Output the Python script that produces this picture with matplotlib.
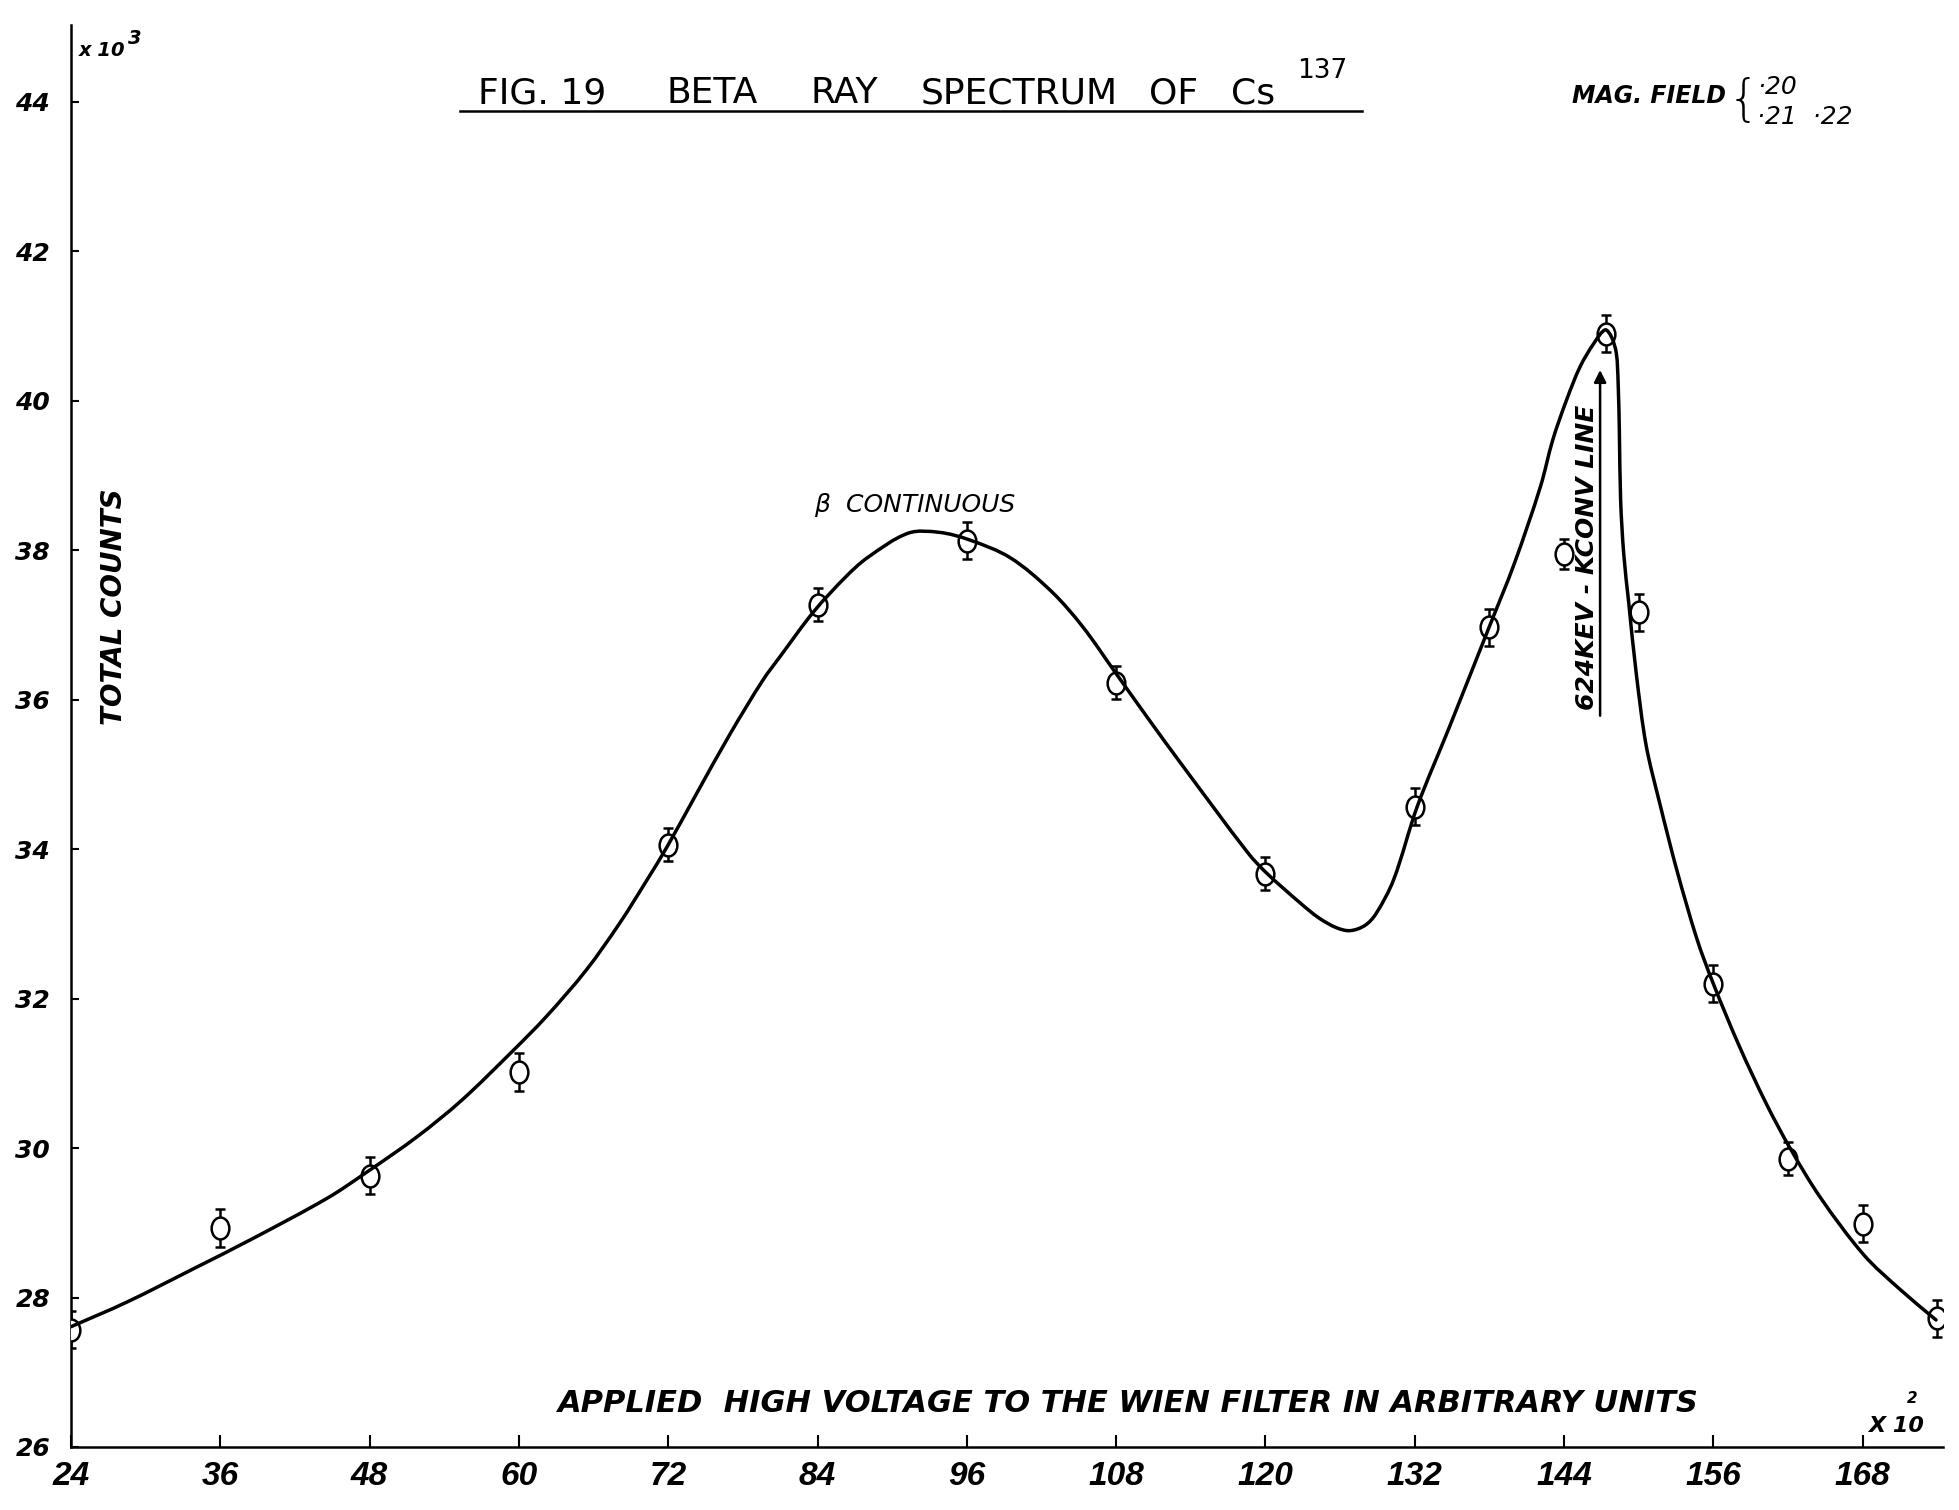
import matplotlib
matplotlib.use("Agg")
import numpy as np
import matplotlib.pyplot as plt
from matplotlib.lines import Line2D
from matplotlib.markers import MarkerStyle
from matplotlib.path import Path
from matplotlib.patches import PathPatch
from matplotlib.transforms import Affine2D

# measured points (voltage x 10^2, counts x 10^3)
voltage = [24, 36, 48, 60, 72, 84, 96, 108, 120, 132, 138, 144, 147.4, 150, 156, 162, 168, 174]
counts = [27.57, 28.93, 29.63, 31.02, 34.06, 37.27, 38.13, 36.23, 33.67, 34.57,
          36.97, 37.95, 40.9, 37.17, 32.2, 29.86, 28.99, 27.72]
count_err = [0.25, 0.25, 0.25, 0.25, 0.22, 0.22, 0.25, 0.22, 0.22, 0.25,
             0.25, 0.2, 0.25, 0.25, 0.25, 0.22, 0.25, 0.25]

# hand drawn curve
curve_x = [24.0, 28.5, 33.9, 38.5, 44.6, 47.7, 51.8, 55.4, 59.5, 62.2, 65.4, 68.1,
           70.3, 71.9, 74.3, 77.0, 79.6, 81.0, 83.7, 86.3, 88.0, 91.3, 93.8, 96.2,
           99.5, 102.8, 105.3, 108.0, 110.7, 113.2, 118.6, 120.1, 122.8, 124.3, 125.7,
           126.8, 128.0, 128.9, 130.3, 132.2, 134.8, 138.0, 140.0, 142.1, 143.1, 144.2,
           145.3, 146.4, 147.3, 147.8, 148.2, 148.35, 148.45, 148.55, 148.8, 149.2, 149.8,
           150.6, 151.7, 153.1, 154.7, 156.0, 158.1, 160.3, 162.2, 164.6, 168.1, 171.0, 173.9]
curve_y = [27.61, 27.94, 28.39, 28.78, 29.33, 29.67, 30.15, 30.64, 31.3, 31.76, 32.38, 33.01,
           33.59, 34.03, 34.75, 35.55, 36.26, 36.58, 37.18, 37.65, 37.9, 38.23, 38.24, 38.14,
           37.9, 37.45, 36.98, 36.35, 35.72, 35.15, 33.95, 33.68, 33.28, 33.08, 32.95,
           32.91, 32.98, 33.14, 33.59, 34.57, 35.64, 36.98, 37.82, 38.85, 39.48, 40.01,
           40.46, 40.77, 40.95, 40.86, 40.64, 40.24, 39.57, 38.67, 37.95, 37.3, 36.36,
           35.39, 34.61, 33.7, 32.79, 32.2, 31.36, 30.58, 29.99, 29.34, 28.57, 28.11, 27.7]

x_ticks = [24, 36, 48, 60, 72, 84, 96, 108, 120, 132, 144, 156, 168]
y_ticks = [26, 28, 30, 32, 34, 36, 38, 40, 42, 44]
title_words = ["FIG. 19", "BETA", "RAY", "SPECTRUM", "OF", "Cs"]

W, H = 1959, 1510
fig = plt.figure(figsize=(W / 100, H / 100), dpi=100)
ax = fig.add_axes([71 / W, 1 - 1447 / H, (1943 - 71) / W, (1447 - 25) / H])
ax.set_xlim(24, 174.46)
ax.set_ylim(26, 45.03)


def fpos(x, y):
    # pixel position on the sheet -> figure fraction
    return x / W, 1 - y / H


def smooth_path(xs, ys):
    # pen-like curve through the read points (cubic pieces, chord length spacing)
    p = np.column_stack([xs, ys])
    d = ax.transData.transform(p)
    t = np.concatenate([[0], np.cumsum(np.hypot(*np.diff(d, axis=0).T))])
    m = np.zeros_like(p)
    m[1:-1] = (p[2:] - p[:-2]) / (t[2:] - t[:-2])[:, None]
    m[0] = (p[1] - p[0]) / (t[1] - t[0])
    m[-1] = (p[-1] - p[-2]) / (t[-1] - t[-2])
    verts, codes = [p[0]], [Path.MOVETO]
    for i in range(len(p) - 1):
        h = t[i + 1] - t[i]
        verts += [p[i] + m[i] * h / 3, p[i + 1] - m[i + 1] * h / 3, p[i + 1]]
        codes += [Path.CURVE4] * 3
    return Path(verts, codes)


hand = dict(family="DejaVu Sans", style="italic", weight="bold")
tickfont = dict(family="Liberation Sans", style="italic", weight="bold")

ax.add_patch(PathPatch(smooth_path(curve_x, curve_y), facecolor="none", edgecolor="black",
                       lw=2.5, zorder=4, capstyle="round", joinstyle="round"))
ax.errorbar(voltage, counts, yerr=count_err, fmt="none", ecolor="black",
            elinewidth=1.8, capsize=3.5, capthick=1.8, zorder=2)
oval = MarkerStyle("o", transform=Affine2D().scale(0.85, 1.05))
ax.plot(voltage, counts, linestyle="none", marker=oval, markersize=15,
        mfc="white", mec="black", mew=1.8, zorder=3)

for s in ["top", "right"]:
    ax.spines[s].set_visible(False)
for s in ["left", "bottom"]:
    ax.spines[s].set_linewidth(1.8)

ax.set_xticks(x_ticks)
ax.set_yticks(y_ticks)
ax.set_xticklabels([str(t) for t in x_ticks], fontsize=24, **tickfont)
ax.set_yticklabels([str(t) for t in y_ticks], fontsize=18, **hand)
ax.tick_params(axis="x", direction="in", length=9, width=1.5, pad=10)
ax.tick_params(axis="y", direction="in", length=6, width=1.5, pad=15)

# title, word by word, with underline
for word, xp in zip(title_words, [478, 666, 810, 921, 1149, 1231]):
    fig.text(*fpos(xp, 103), word, fontsize=26, family="DejaVu Sans", ha="left", va="baseline")
fig.text(*fpos(1297, 78), "137", fontsize=19, family="DejaVu Sans", ha="left", va="baseline")
fig.add_artist(Line2D([460 / W, 1362 / W], [1 - 111 / H, 1 - 111 / H], color="black", lw=1.8))

fig.text(*fpos(79, 56), "x 10", fontsize=14, ha="left", va="baseline", **hand)
fig.text(*fpos(128, 44), "3", fontsize=14, ha="left", va="baseline", **hand)

fig.text(*fpos(1572, 103), "MAG. FIELD", fontsize=17, ha="left", va="baseline", **hand)
fig.text(*fpos(1728, 101), "{", fontsize=36, family="DejaVu Sans", weight="light",
         ha="left", va="center")
fig.text(*fpos(1757, 94), "\u00b720", fontsize=18, family="DejaVu Sans", style="italic",
         ha="left", va="baseline")
fig.text(*fpos(1757, 124), "\u00b721  \u00b722", fontsize=18, family="DejaVu Sans", style="italic",
         ha="left", va="baseline")

ax.text(0.023, 0.591, "TOTAL COUNTS", transform=ax.transAxes, rotation=90,
        fontsize=20, ha="center", va="center", **hand)

fig.text(*fpos(558, 1412), "APPLIED  HIGH VOLTAGE TO THE WIEN FILTER IN ARBITRARY UNITS",
         fontsize=22, ha="left", va="baseline", **hand)
fig.text(*fpos(1868, 1432), "X 10", fontsize=16, ha="left", va="baseline", **hand)
fig.text(*fpos(1907, 1403), "2", fontsize=11, ha="left", va="baseline", **hand)

ax.text(91.8, 38.6, "\u03b2  CONTINUOUS", fontsize=18, family="DejaVu Sans", style="italic",
        ha="center", va="center")

ax.annotate("", xy=(146.9, 40.45), xytext=(146.9, 35.75),
            arrowprops=dict(arrowstyle="-|>", color="black", lw=1.8, mutation_scale=18))
ax.text(146.85, 37.9, "624KEV - KCONV LINE", rotation=90, fontsize=18,
        ha="right", va="center", **hand)

fig.savefig("out.png", dpi=100, facecolor="white")
